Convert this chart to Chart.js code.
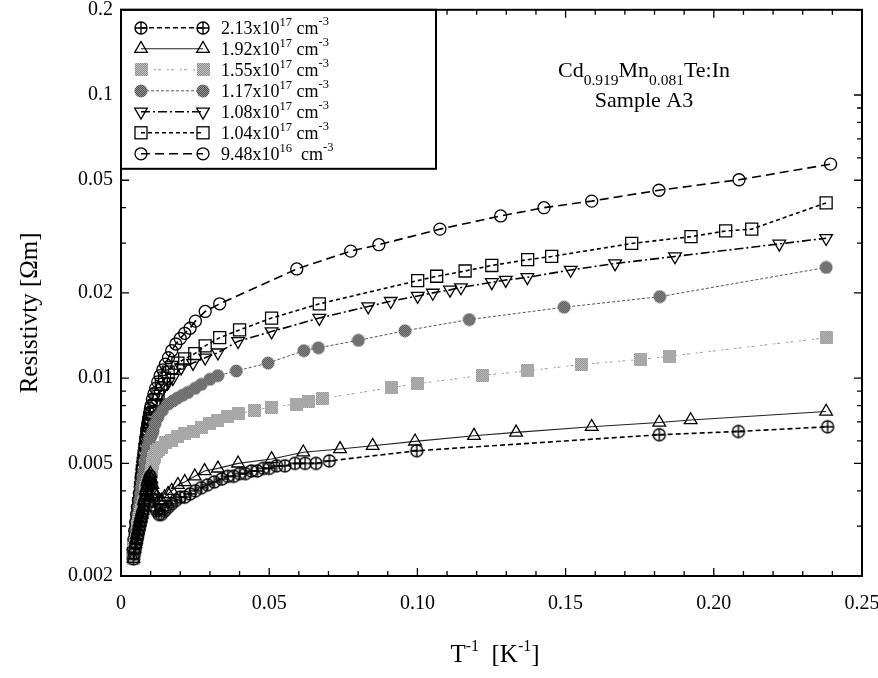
<!DOCTYPE html>
<html>
<head>
<meta charset="utf-8">
<title>Resistivity vs inverse temperature</title>
<script src="https://cdn.jsdelivr.net/npm/chart.js@4.4.1/dist/chart.umd.min.js"></script>
<style>
  html, body { margin: 0; padding: 0; background: #fff; }
  #wrap { width: 878px; height: 678px; }
</style>
</head>
<body>
<div id="wrap"><canvas id="c" width="878" height="678"></canvas></div>
<script>
// ---- data: inverse temperature T^-1 [1/K] and resistivity [Ohm m] ----
// common high-temperature sweep shared by all samples
const xWarm = [0.0042,0.0045,0.0048,0.0051,0.0054,0.0057,0.0060,0.0063,0.0066,0.0069,
               0.0072,0.0075,0.0078,0.0081,0.0084,0.0087,0.0090,0.0093,0.0096,0.0099];

// n = 2.13e17 cm^-3
const x213 = xWarm.concat([0.0102,0.0106,0.0110,0.0115,0.0120,0.0128,0.0136,0.0147,0.0159,0.0171,
  0.0185,0.0200,0.0215,0.0233,0.0251,0.0271,0.0292,0.0315,0.0340,0.0360,0.0380,0.0400,0.0420,0.0440,
  0.0460,0.0480,0.0500,0.0525,0.0553,0.0587,0.0621,0.0658,0.0703,0.0998,0.1816,0.2083,0.2384]);
const r213 = [0.0023,0.0024,0.0025,0.0026,0.0027,0.0028,0.0029,0.0030,0.0031,0.0032,
  0.0033,0.0034,0.0036,0.0037,0.0039,0.0040,0.0042,0.0043,0.0044,0.0045,
  0.0042,0.0039,0.0037,0.0035,0.0034,0.0033,0.0033,0.0034,0.0035,0.0036,
  0.0037,0.0038,0.0038,0.0039,0.0040,0.0041,0.0042,0.0043,0.0044,0.0045,0.0045,0.0046,0.0046,0.0047,
  0.0047,0.0048,0.0048,0.0049,0.0049,0.0050,0.0050,0.0050,0.0051,0.00554,0.00631,0.00648,0.00673];

// n = 1.92e17 cm^-3
const x192 = xWarm.concat([0.0102,0.0106,0.0110,0.0115,0.0120,0.0128,0.0136,0.0147,0.0159,0.0171,
  0.0192,0.0215,0.0249,0.0282,0.0327,0.0395,0.0508,0.0615,0.0739,0.0849,
  0.0992,0.1191,0.1333,0.1588,0.1816,0.1922,0.2379]);
const r192 = [0.0023,0.0025,0.0026,0.0027,0.0028,0.0029,0.0030,0.0031,0.0032,0.0033,
  0.0034,0.0035,0.0037,0.0038,0.0040,0.0041,0.0043,0.0044,0.0045,0.0046,
  0.0044,0.0042,0.0040,0.0039,0.0038,0.0037,0.0037,0.0038,0.0039,0.0040,
  0.0042,0.0043,0.0045,0.0047,0.0048,0.0050,0.00518,0.00547,0.00562,0.00577,
  0.00598,0.00626,0.00643,0.00673,0.00697,0.00711,0.00762];

// n = 1.55e17 cm^-3
const x155 = xWarm.concat([0.0102,0.0106,0.0110,0.0114,0.0120,0.0128,0.0136,0.0150,0.0170,0.0190,
  0.0215,0.0243,0.0271,0.0300,0.0327,0.0360,0.0395,0.0450,0.0508,0.0593,
  0.0632,0.0680,0.0911,0.1001,0.1220,0.1371,0.1554,0.1754,0.1852,0.2379]);
const r155 = [0.0023,0.0025,0.0026,0.0027,0.0028,0.0030,0.0031,0.0032,0.0033,0.0034,
  0.0035,0.0036,0.0037,0.0038,0.0040,0.0041,0.0042,0.0043,0.0044,0.0045,
  0.0047,0.0050,0.0052,0.0053,0.0055,0.0056,0.0057,0.0059,0.0060,0.0062,
  0.00635,0.0065,0.0067,0.0069,0.00707,0.0073,0.00747,0.0077,0.0079,0.0081,
  0.0083,0.00846,0.00926,0.00956,0.01023,0.0106,0.01118,0.01164,0.01196,0.01388];

// n = 1.17e17 cm^-3
const x117 = xWarm.concat([0.0103,0.0108,0.0115,0.0125,0.0140,0.0159,0.0175,0.0190,0.0208,0.0226,
  0.0250,0.0271,0.0300,0.0327,0.0389,0.0496,0.0617,0.0666,0.0801,0.0958,
  0.1175,0.1495,0.1818,0.2379]);
const r117 = [0.0024,0.0026,0.0027,0.0029,0.0031,0.0033,0.0035,0.0037,0.0039,0.0041,
  0.0043,0.0045,0.0047,0.0050,0.0052,0.0054,0.0056,0.0058,0.0060,0.0062,
  0.0063,0.0065,0.0069,0.0073,0.0077,0.0081,0.0083,0.0085,0.0087,0.0089,
  0.0092,0.0095,0.0099,0.0102,0.0106,0.0113,0.0125,0.0128,0.0136,0.0147,
  0.0161,0.0178,0.0194,0.0246];

// n = 1.08e17 cm^-3
const x108 = xWarm.concat([0.0105,0.0112,0.0120,0.0131,0.0147,0.0160,0.0175,0.0203,0.0243,0.0284,
  0.0327,0.0395,0.0508,0.0669,0.0834,0.0910,0.1001,0.1052,0.1110,0.1147,
  0.1251,0.1298,0.1371,0.1517,0.1667,0.1869,0.2221,0.2379]);
const r108 = [0.0024,0.0026,0.0028,0.0030,0.0032,0.0034,0.0036,0.0038,0.0040,0.0043,
  0.0046,0.0049,0.0052,0.0055,0.0058,0.0061,0.0063,0.0065,0.0067,0.0069,
  0.0072,0.0077,0.0082,0.0088,0.0094,0.0097,0.0100,0.0109,0.0113,0.0118,
  0.0123,0.0135,0.0146,0.0163,0.0179,0.0187,0.0195,0.0200,0.0205,0.0209,
  0.0218,0.0222,0.0227,0.0241,0.0254,0.0269,0.0298,0.0312];

// n = 1.04e17 cm^-3
const x104 = xWarm.concat([0.0105,0.0112,0.0118,0.0125,0.0136,0.0147,0.0159,0.0171,0.0192,0.0215,
  0.0249,0.0284,0.0333,0.0400,0.0508,0.0669,0.1001,0.1065,0.1161,0.1251,
  0.1372,0.1453,0.1723,0.1923,0.2040,0.2128,0.2379]);
const r104 = [0.0024,0.0026,0.0028,0.0030,0.0032,0.0034,0.0036,0.0038,0.0041,0.0044,
  0.0047,0.0050,0.0053,0.0056,0.0059,0.0062,0.0065,0.0068,0.0070,0.0072,
  0.0075,0.0080,0.0084,0.0088,0.0095,0.0100,0.0105,0.0109,0.0113,0.0117,
  0.0122,0.0130,0.0139,0.0148,0.0163,0.0183,0.0221,0.0229,0.0239,0.0250,
  0.0262,0.0269,0.0299,0.0316,0.0331,0.0336,0.0416];

// n = 9.48e16 cm^-3
const x948 = xWarm.concat([0.0102,0.0106,0.0111,0.0117,0.0124,0.0132,0.0141,0.0150,0.0160,0.0171,
  0.0185,0.0200,0.0215,0.0233,0.0251,0.0284,0.0333,0.0593,0.0775,0.0870,
  0.1076,0.1281,0.1427,0.1588,0.1815,0.2085,0.2394]);
const r948 = [0.0024,0.0027,0.0029,0.0031,0.0033,0.0035,0.0037,0.0039,0.0042,0.0045,
  0.0048,0.0051,0.0054,0.0058,0.0062,0.0066,0.0069,0.0072,0.0075,0.0078,
  0.0080,0.0084,0.0088,0.0092,0.0097,0.0102,0.0107,0.0112,0.0118,0.0125,
  0.0132,0.0138,0.0144,0.0150,0.0159,0.0172,0.0183,0.0243,0.0281,0.0296,
  0.0336,0.0374,0.0400,0.0422,0.0461,0.0502,0.0570];

// legend labels: carrier concentration mantissa and power of ten
const mantissas = ['2.13','1.92','1.55','1.17','1.08','1.04','9.48'];
const exponents = ['17','17','17','17','17','17','16'];

// axis ticks
const xMajor = [0, 0.05, 0.10, 0.15, 0.20, 0.25];
const xLabels = ['0', '0.05', '0.10', '0.15', '0.20', '0.25'];
const yMajor = [0.002, 0.005, 0.01, 0.02, 0.05, 0.1, 0.2];
const yLabels = ['0.002', '0.005', '0.01', '0.02', '0.05', '0.1', '0.2'];
const yMinor = [0.003, 0.004, 0.006, 0.007, 0.008, 0.009, 0.03, 0.04, 0.06, 0.07, 0.08, 0.09];

// ---- marker sprites ----
const SERIF = '"Liberation Serif", "Times New Roman", Times, serif';

function sprite(size, draw) {
  const c = document.createElement('canvas');
  c.width = size; c.height = size;
  draw(c.getContext('2d'), size / 2);
  return c;
}
const crossCircle = sprite(16, (g, m) => {
  g.strokeStyle = '#000'; g.lineWidth = 1.4;
  g.beginPath(); g.arc(m, m, 6, 0, Math.PI * 2); g.stroke();
  g.beginPath(); g.moveTo(m - 6, m); g.lineTo(m + 6, m); g.moveTo(m, m - 6); g.lineTo(m, m + 6); g.stroke();
});
const graySquare = sprite(13, (g) => {
  for (let i = 0; i < 13; i++) for (let j = 0; j < 13; j++) {
    g.fillStyle = (i + j) % 2 ? '#8a8a8a' : '#c6c6c6';
    g.fillRect(i, j, 1, 1);
  }
});
const darkDot = sprite(14, (g, m) => {
  g.beginPath(); g.arc(m, m, 6.5, 0, Math.PI * 2); g.clip();
  for (let i = 0; i < 14; i++) for (let j = 0; j < 14; j++) {
    g.fillStyle = (i + j) % 2 ? '#4a4a4a' : '#9a9a9a';
    g.fillRect(i, j, 1, 1);
  }
});

function pts(xs, ys) { return xs.map((x, i) => ({ x: x, y: ys[i] })); }

const common = { fill: false, tension: 0, pointBorderWidth: 1.3, pointBackgroundColor: 'rgba(0,0,0,0)' };
const datasets = [
  Object.assign({}, common, { data: pts(x213, r213), borderColor: '#000', borderWidth: 1.6, borderDash: [5, 3],
    pointStyle: crossCircle, pointRadius: 6, pointBorderColor: '#000' }),
  Object.assign({}, common, { data: pts(x192, r192), borderColor: '#222', borderWidth: 1.1, borderDash: [],
    pointStyle: 'triangle', pointRadius: 7.3, pointBorderColor: '#000' }),
  Object.assign({}, common, { data: pts(x155, r155), borderColor: '#999', borderWidth: 1, borderDash: [2, 2, 3, 6],
    pointStyle: graySquare, pointRadius: 6.5, pointBorderColor: '#999' }),
  Object.assign({}, common, { data: pts(x117, r117), borderColor: '#555', borderWidth: 1, borderDash: [3, 2],
    pointStyle: darkDot, pointRadius: 6.5, pointBorderColor: '#555' }),
  Object.assign({}, common, { data: pts(x108, r108), borderColor: '#000', borderWidth: 1.6, borderDash: [9, 3, 2, 3],
    pointStyle: 'triangle', pointRotation: 180, pointRadius: 7.3, pointBorderColor: '#000' }),
  Object.assign({}, common, { data: pts(x104, r104), borderColor: '#000', borderWidth: 1.6, borderDash: [4, 3],
    pointStyle: 'rect', pointRadius: 8.5, pointBorderColor: '#000' }),
  Object.assign({}, common, { data: pts(x948, r948), borderColor: '#000', borderWidth: 1.6, borderDash: [9, 5],
    pointStyle: 'circle', pointRadius: 6, pointBorderColor: '#000' })
];

// ---- drawing helpers ----
function richText(ctx, segs, x, y, align) {
  let w = 0;
  segs.forEach(s => { ctx.font = s.size + 'px ' + SERIF; s.w = ctx.measureText(s.t).width; w += s.w; });
  let cx = align === 'center' ? x - w / 2 : x;
  ctx.textAlign = 'left';
  ctx.textBaseline = 'alphabetic';
  segs.forEach(s => { ctx.font = s.size + 'px ' + SERIF; ctx.fillText(s.t, cx, y + (s.dy || 0)); cx += s.w; });
}

function drawMarker(ctx, ds, x, y) {
  const st = ds.pointStyle, r = ds.pointRadius;
  ctx.save();
  ctx.setLineDash([]);
  ctx.lineWidth = ds.pointBorderWidth;
  ctx.strokeStyle = ds.pointBorderColor;
  if (typeof st !== 'string') {
    ctx.drawImage(st, Math.round(x - st.width / 2), Math.round(y - st.height / 2));
  } else if (st === 'circle') {
    ctx.beginPath(); ctx.arc(x, y, r, 0, Math.PI * 2); ctx.stroke();
  } else if (st === 'rect') {
    const s = r * Math.SQRT1_2;
    ctx.strokeRect(x - s, y - s, 2 * s, 2 * s);
  } else if (st === 'triangle') {
    let a = (ds.pointRotation || 0) * Math.PI / 180;
    ctx.beginPath();
    for (let k = 0; k < 3; k++) {
      const px = x + Math.sin(a) * r, py = y - Math.cos(a) * r;
      k ? ctx.lineTo(px, py) : ctx.moveTo(px, py);
      a += 2 * Math.PI / 3;
    }
    ctx.closePath(); ctx.stroke();
  }
  ctx.restore();
}

const decorations = {
  id: 'decorations',
  afterDatasetsDraw(chart) {
    const ctx = chart.ctx, a = chart.chartArea;
    const xs = chart.scales.x, ys = chart.scales.y;
    ctx.save();
    ctx.fillStyle = '#000';
    ctx.strokeStyle = '#000';
    ctx.setLineDash([]);

    // inward tick marks on all four sides
    ctx.lineWidth = 1.3;
    ctx.beginPath();
    for (let i = 1; i < 25; i++) {
      const px = xs.getPixelForValue(i / 100);
      const len = i % 5 === 0 ? 8 : 5;
      ctx.moveTo(px, a.bottom); ctx.lineTo(px, a.bottom - len);
      ctx.moveTo(px, a.top); ctx.lineTo(px, a.top + len);
    }
    yMajor.concat(yMinor).forEach(v => {
      const py = ys.getPixelForValue(v);
      const len = yMajor.includes(v) ? 8 : 5;
      ctx.moveTo(a.left, py); ctx.lineTo(a.left + len, py);
      ctx.moveTo(a.right, py); ctx.lineTo(a.right - len, py);
    });
    ctx.stroke();

    // plot frame
    ctx.lineWidth = 2;
    ctx.strokeRect(a.left, a.top, a.right - a.left, a.bottom - a.top);

    // legend box
    const lx = a.left, ly = a.top, lw = 315, lh = 159;
    ctx.fillStyle = '#fff';
    ctx.fillRect(lx + 1, ly + 1, lw - 1, lh - 1);
    ctx.strokeRect(lx, ly, lw, lh);
    chart.data.datasets.forEach((ds, i) => {
      const ry = ly + 18 + i * 21;
      const x0 = lx + 20, x1 = lx + 82;
      ctx.save();
      ctx.strokeStyle = ds.borderColor;
      ctx.lineWidth = ds.borderWidth;
      ctx.setLineDash(ds.borderDash);
      ctx.beginPath(); ctx.moveTo(x0, ry); ctx.lineTo(x1, ry); ctx.stroke();
      ctx.restore();
      drawMarker(ctx, ds, x0, ry);
      drawMarker(ctx, ds, x1, ry);
      ctx.fillStyle = '#000';
      const gap = exponents[i] === '16' ? '  cm' : ' cm';
      richText(ctx, [
        { t: mantissas[i] + 'x10', size: 18 },
        { t: exponents[i], size: 12.5, dy: -8 },
        { t: gap, size: 18 },
        { t: '-3', size: 12.5, dy: -9 }
      ], lx + 100, ry + 6, 'left');
    });

    // material annotation
    ctx.fillStyle = '#000';
    richText(ctx, [
      { t: 'Cd', size: 22 }, { t: '0.919', size: 15.5, dy: 8 },
      { t: 'Mn', size: 22 }, { t: '0.081', size: 15.5, dy: 8 },
      { t: 'Te:In', size: 22 }
    ], 644, 77, 'center');
    richText(ctx, [{ t: 'Sample A3', size: 22 }], 644, 107, 'center');

    // axis titles
    richText(ctx, [
      { t: 'T', size: 25 }, { t: '-1', size: 16, dy: -11 },
      { t: '  [K', size: 25 }, { t: '-1', size: 16, dy: -11 },
      { t: ']', size: 25 }
    ], 495, 662, 'center');
    ctx.save();
    ctx.translate(30, (a.top + a.bottom) / 2 + 20);
    ctx.rotate(-Math.PI / 2);
    ctx.font = '25px ' + SERIF;
    ctx.textAlign = 'center';
    ctx.textBaseline = 'middle';
    ctx.fillText('Resistivty [\u03A9m]', 0, 0);
    ctx.restore();

    ctx.restore();
  }
};

new Chart(document.getElementById('c'), {
  type: 'line',
  data: { datasets: datasets },
  options: {
    responsive: false,
    devicePixelRatio: 1,
    animation: false,
    events: [],
    layout: { padding: { top: 8, right: 16, left: 0, bottom: 0 } },
    plugins: { legend: { display: false }, tooltip: { enabled: false } },
    scales: {
      x: {
        type: 'linear', min: 0, max: 0.25,
        grid: { display: false, drawTicks: false },
        border: { display: false },
        afterBuildTicks: s => { s.ticks = xMajor.map(v => ({ value: v })); },
        afterFit: s => { s.height = 102; s.paddingLeft = 0; s.paddingRight = 0; },
        ticks: {
          padding: 16, color: '#000', maxRotation: 0, autoSkip: false,
          font: { family: SERIF, size: 20 },
          callback: (v, i) => xLabels[i]
        }
      },
      y: {
        type: 'logarithmic', min: 0.002, max: 0.2,
        grid: { display: false, drawTicks: false },
        border: { display: false },
        afterBuildTicks: s => { s.ticks = yMajor.map(v => ({ value: v })); },
        afterFit: s => { s.width = 121; s.paddingTop = 0; s.paddingBottom = 0; },
        ticks: {
          padding: 8, color: '#000', autoSkip: false,
          font: { family: SERIF, size: 20 },
          callback: (v, i) => yLabels[i]
        }
      }
    }
  },
  plugins: [decorations]
});
</script>
</body>
</html>
